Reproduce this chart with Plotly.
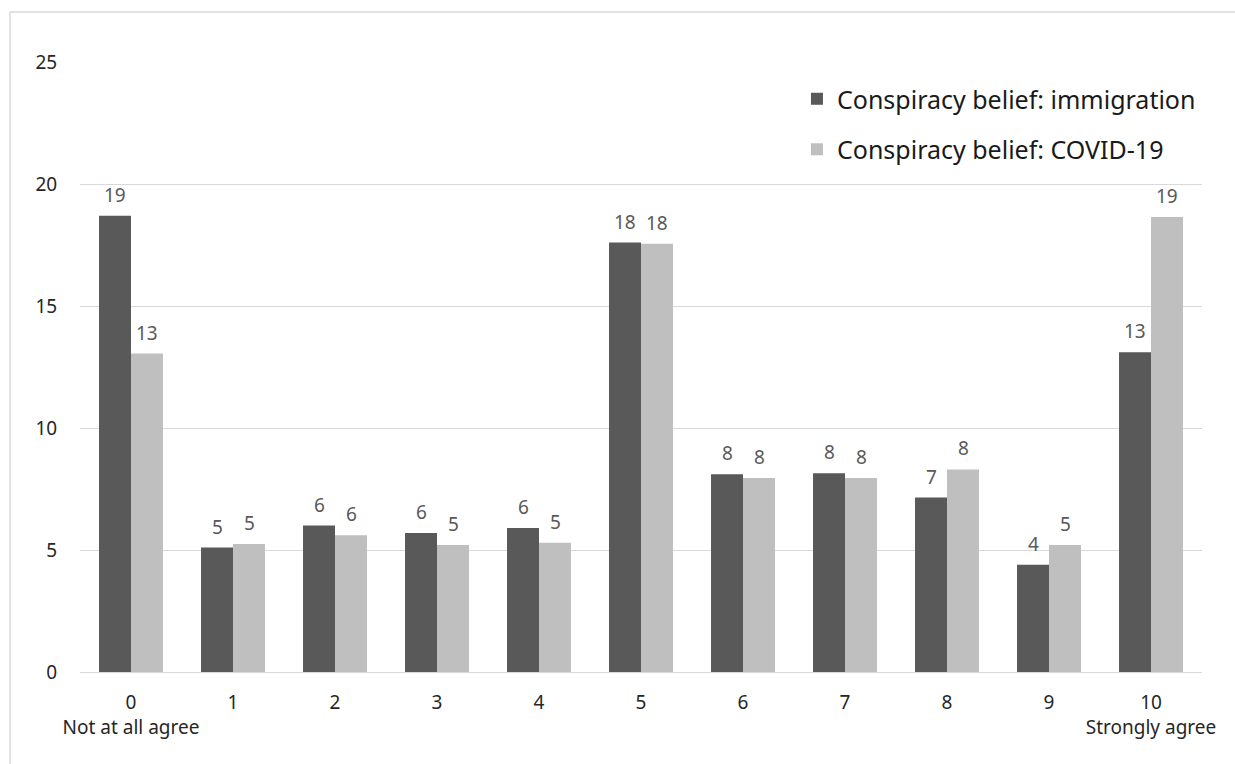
import plotly.graph_objects as go

# Agreement scale 0..10 and share of respondents (%) per answer
categories = ["0", "1", "2", "3", "4", "5", "6", "7", "8", "9", "10"]
tick_labels = ["0<br>Not at all agree", "1", "2", "3", "4", "5", "6", "7", "8", "9",
               "10<br>Strongly agree"]
immigration = [18.7, 5.1, 6.0, 5.7, 5.9, 17.6, 8.1, 8.15, 7.15, 4.4, 13.1]
covid = [13.05, 5.25, 5.6, 5.2, 5.3, 17.55, 7.95, 7.95, 8.3, 5.2, 18.65]

series_names = ["Conspiracy belief: immigration", "Conspiracy belief: COVID-19"]
series_colors = ["#595959", "#bfbfbf"]

FONT = "Noto Sans"

fig = go.Figure()
for name, vals, col in zip(series_names, [immigration, covid], series_colors):
    fig.add_trace(go.Bar(
        x=categories, y=vals, name=name, legendgroup=name,
        marker=dict(color=col, line=dict(width=0)),
    ))

# value labels above each bar (rounded to whole percent)
for vals, dx in [(immigration, -16), (covid, 16)]:
    for c, v in zip(categories, vals):
        fig.add_annotation(
            x=c, y=v, text=f"{v:.0f}", showarrow=False,
            xshift=dx, yshift=21, yanchor="middle",
            font=dict(family=FONT, size=19, color="#595959"),
        )

# light frame around the chart area
fig.add_shape(type="line", xref="paper", yref="paper",
              x0=-70 / 1122, x1=1.1, y0=1 + 50 / 610, y1=1 + 50 / 610,
              line=dict(color="#d9d9d9", width=1.5))
fig.add_shape(type="line", xref="paper", yref="paper",
              x0=-70 / 1122, x1=-70 / 1122, y0=-0.2, y1=1 + 50 / 610,
              line=dict(color="#d9d9d9", width=1.5))

fig.update_layout(
    width=1235, height=764,
    margin=dict(l=80, r=33, t=62, b=92),
    paper_bgcolor="white", plot_bgcolor="white",
    barmode="group", bargap=0.373, bargroupgap=0,
    font=dict(family=FONT, color="#262626"),
    showlegend=True,
    legend=dict(
        x=0.639, y=0.977, xanchor="left", yanchor="top",
        font=dict(family=FONT, size=25, color="#1a1a1a"),
        traceorder="grouped", tracegroupgap=15,
        bgcolor="rgba(0,0,0,0)",
    ),
    xaxis=dict(
        type="category", categoryorder="array", categoryarray=categories,
        tickvals=categories, ticktext=tick_labels,
        tickfont=dict(family=FONT, size=19, color="#262626"),
        showline=True, linecolor="#d9d9d9", linewidth=1,
        ticks="outside", ticklen=13, tickcolor="rgba(0,0,0,0)",
        showgrid=False, fixedrange=True,
    ),
    yaxis=dict(
        range=[0, 25], tickvals=[0, 5, 10, 15, 20, 25],
        tickfont=dict(family=FONT, size=19, color="#262626"),
        showgrid=True, gridcolor="#d9d9d9", gridwidth=1,
        zeroline=False, showline=False,
        ticks="outside", ticklen=18, tickcolor="rgba(0,0,0,0)",
        fixedrange=True,
    ),
)

fig.write_html("out.html")
